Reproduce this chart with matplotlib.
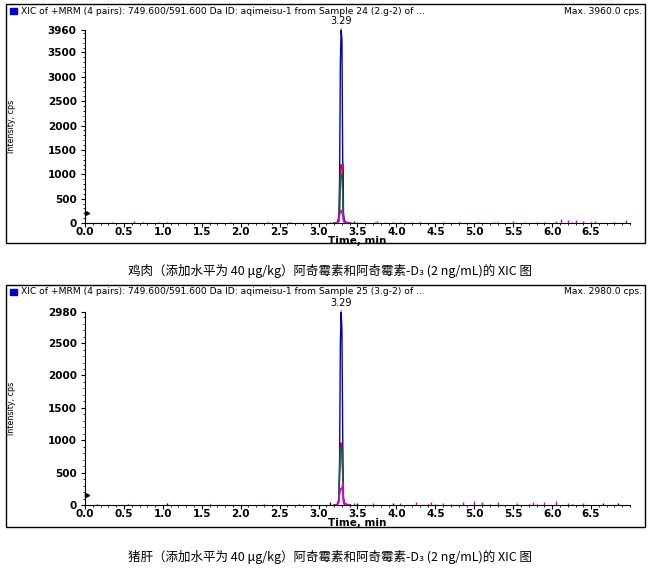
import numpy as np
import matplotlib.pyplot as plt
from matplotlib.patches import Rectangle
from matplotlib.ticker import MultipleLocator

peak_t = [3.20, 3.24, 3.26, 3.27, 3.28, 3.29, 3.30, 3.31, 3.315, 3.32, 3.33, 3.35, 3.40]

blue_top = [0, 10, 120, 900, 3300, 3960, 3750, 1250, 1200, 200, 60, 20, 0]
red_top = [0, 5, 40, 300, 1100, 1200, 1150, 700, 300, 60, 20, 5, 0]
green_top = [0, 5, 30, 250, 900, 1000, 950, 600, 250, 50, 15, 5, 0]
mag_top = [0, 5, 60, 150, 240, 260, 200, 180, 120, 60, 30, 10, 0]

blue_bot = [0, 10, 80, 700, 2500, 2980, 2700, 1100, 500, 120, 40, 15, 0]
red_bot = [0, 5, 60, 400, 900, 960, 850, 500, 200, 50, 15, 5, 0]
green_bot = [0, 5, 60, 500, 850, 900, 800, 450, 200, 40, 15, 5, 0]
mag_bot = [0, 5, 40, 150, 230, 260, 240, 350, 200, 60, 20, 10, 0]

# ruído (tempo, intensidade)
noise_top = {
    'blue': ([0.35, 0.75, 1.05, 2.35, 2.62, 3.15, 3.45, 3.72, 3.95, 4.3, 4.8, 5.3, 5.9, 6.5, 6.8],
             [15, 20, 25, 25, 20, 30, 35, 30, 25, 20, 25, 20, 30, 25, 20]),
    'magenta': ([0.95, 3.55, 3.75, 3.85, 4.2, 4.6, 5.05, 5.25, 5.5, 5.8, 6.05, 6.12, 6.2, 6.3, 6.4, 6.55],
                [25, 30, 40, 30, 25, 20, 30, 25, 35, 30, 50, 90, 60, 70, 40, 35]),
    'green': ([0.63, 1.6, 1.87, 2.65, 3.5, 6.95],
              [45, 20, 20, 15, 25, 70]),
    'red': ([3.42, 4.05, 5.65, 6.25],
            [20, 15, 20, 25]),
}
noise_bot = {
    'blue': ([0.15, 0.55, 1.05, 1.6, 2.3, 2.75, 3.15, 3.5, 3.95, 4.4, 5.1, 5.7, 6.25, 6.65, 6.85],
             [15, 15, 25, 15, 15, 20, 40, 30, 25, 20, 25, 20, 20, 25, 25]),
    'magenta': ([3.45, 3.7, 4.05, 4.25, 4.45, 4.6, 4.85, 5.0, 5.1, 5.3, 5.55, 5.75, 5.9, 6.05, 6.2, 6.4],
                [25, 30, 35, 45, 40, 30, 45, 55, 50, 40, 35, 45, 40, 55, 30, 25]),
    'green': ([3.35, 4.5, 5.2],
              [20, 15, 20]),
    'red': ([3.4, 4.7, 5.8],
            [15, 20, 15]),
}

x_ticks = np.arange(0, 7.0, 0.5)
y_ticks_top = [0, 500, 1000, 1500, 2000, 2500, 3000, 3500, 3960]
y_ticks_bot = [0, 500, 1000, 1500, 2000, 2500, 2980]

titles = ['XIC of +MRM (4 pairs): 749.600/591.600 Da ID: aqimeisu-1 from Sample 24 (2.g-2) of ...',
          'XIC of +MRM (4 pairs): 749.600/591.600 Da ID: aqimeisu-1 from Sample 25 (3.g-2) of ...']
max_labels = ['Max. 3960.0 cps.', 'Max. 2980.0 cps.']
captions = ['鸡肉（添加水平为 40 μg/kg）阿奇霉素和阿奇霉素-D₃ (2 ng/mL)的 XIC 图',
            '猪肝（添加水平为 40 μg/kg）阿奇霉素和阿奇霉素-D₃ (2 ng/mL)的 XIC 图']

colors = {'blue': '#0000c0', 'red': '#d0002a', 'green': '#00703a', 'magenta': '#e000e0'}

W, H = 660, 573
fig = plt.figure(figsize=(6.6, 5.73), dpi=100)

panels = [
    dict(top=30, bottom=223, box=(6, 4, 645, 243), cap=271,
         series=[blue_top, red_top, green_top, mag_top], noise=noise_top,
         yt=y_ticks_top, arrow=205),
    dict(top=312, bottom=505, box=(6, 285, 645, 527), cap=557,
         series=[blue_bot, red_bot, green_bot, mag_bot], noise=noise_bot,
         yt=y_ticks_bot, arrow=155),
]

for i, p in enumerate(panels):
    x0, y0, x1, y1 = p['box']
    fig.patches.append(Rectangle((x0 / W, 1 - y1 / H), (x1 - x0) / W, (y1 - y0) / H,
                                 transform=fig.transFigure, fill=False, lw=1, ec='black'))
    # barra de título
    fig.patches.append(Rectangle((10 / W, 1 - (y0 + 10) / H), 7 / W, 6 / H,
                                 transform=fig.transFigure, color='#0000c8'))
    fig.text(21 / W, 1 - (y0 + 7) / H, titles[i], fontsize=6.6, va='center', ha='left')
    fig.text((x1 - 3) / W, 1 - (y0 + 7) / H, max_labels[i], fontsize=6.6, va='center', ha='right')

    ax = fig.add_axes([85 / W, 1 - p['bottom'] / H, 545 / W, (p['bottom'] - p['top']) / H])
    ymax = p['yt'][-1]

    names = ['blue', 'red', 'green', 'magenta']
    for nm in names:
        t, h = p['noise'][nm]
        ax.vlines(t, 0, h, color=colors[nm], lw=1)
    for nm, s in zip(names, p['series']):
        ax.plot(peak_t, s, color=colors[nm], lw=1)

    ax.set_xlim(0, 7.0)
    ax.set_ylim(0, ymax)
    ax.set_xticks(x_ticks)
    ax.set_xticklabels(['%.1f' % v for v in x_ticks])
    ax.set_yticks(p['yt'])
    ax.yaxis.set_minor_locator(MultipleLocator(100))
    ax.xaxis.set_minor_locator(MultipleLocator(0.1))
    for s in ['top', 'right']:
        ax.spines[s].set_visible(False)
    ax.tick_params(axis='both', which='major', length=3, width=0.8, labelsize=7.5)
    ax.tick_params(axis='x', which='major', pad=0)
    ax.tick_params(axis='y', which='major', pad=3)
    ax.tick_params(axis='both', which='minor', length=1.5, width=0.6)
    for lb in ax.get_xticklabels() + ax.get_yticklabels():
        lb.set_fontweight('bold')
    ax.set_xlabel('Time, min', fontsize=7.5, fontweight='bold', labelpad=-1)
    ax.set_facecolor('none')

    # seta pequena no eixo y
    ax.plot([0.02], [p['arrow']], marker='>', ms=3, color='black', clip_on=False)

    # rótulo do pico
    ax.annotate('3.29', xy=(3.29, ymax), xytext=(0, 3), textcoords='offset points',
                ha='center', va='bottom', fontsize=7, annotation_clip=False,
                arrowprops=dict(arrowstyle='-', ls=':', lw=0.6, color='black',
                                shrinkA=0, shrinkB=0))

    fig.text(12 / W, 1 - (p['top'] + p['bottom']) / 2 / H, 'Intensity, cps', fontsize=5.8,
             rotation=90, va='center', ha='center')
    fig.text(0.5, 1 - p['cap'] / H, captions[i], fontsize=9, ha='center', va='center',
             family=['Noto Sans CJK SC', 'DejaVu Sans'])

fig.savefig('out.png', dpi=100)
